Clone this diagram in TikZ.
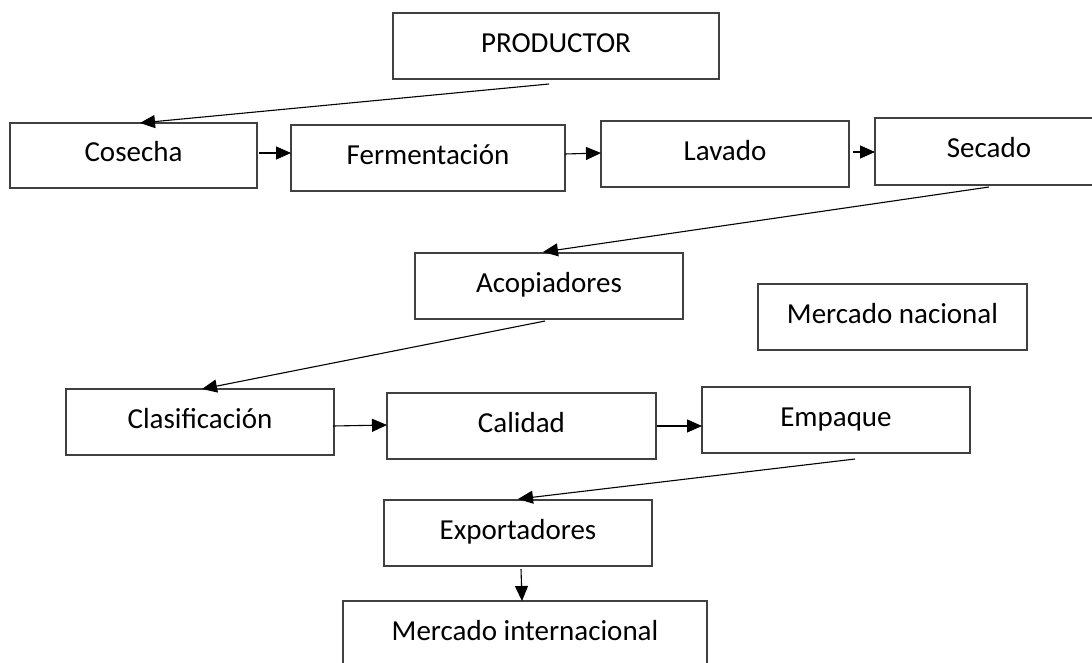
\documentclass[tikz,border=0pt]{standalone}
\usepackage{fontspec}
\setmainfont{Carlito}
\usetikzlibrary{arrows.meta}
\definecolor{boxgray}{HTML}{404040}
\begin{document}
\begin{tikzpicture}[x=1pt,y=-1pt,
  box/.style={draw=boxgray, line width=1.3pt, rectangle, inner sep=0pt, outer sep=0pt,
    text height=20pt, text depth=8pt, font=\fontsize{29}{34}\selectfont},
  conn/.style={draw=black, line width=1.1pt, -{Triangle[length=15pt,width=13pt]}}]
\useasboundingbox (0,0) rectangle (1092,662);
\clip (0,0) rectangle (1092,662);
\node[box, minimum width=326pt, minimum height=66pt] (prod) at (556,46) {PRODUCTOR};
\node[box, minimum width=247pt, minimum height=65pt] (cos) at (133.5,155.5) {Cosecha};
\node[box, minimum width=274pt, minimum height=66pt] (fer) at (428,158) {Fermentación};
\node[box, minimum width=248pt, minimum height=66pt] (lav) at (725,154) {Lavado};
\node[box, minimum width=228pt, minimum height=67pt] (sec) at (989,151.5) {Secado};
\node[box, minimum width=268pt, minimum height=66pt] (aco) at (549,286) {Acopiadores};
\node[box, minimum width=269pt, minimum height=66pt] (mn) at (892.5,317) {Mercado nacional};
\node[box, minimum width=268pt, minimum height=66pt] (cla) at (200,422) {Clasificación};
\node[box, minimum width=269pt, minimum height=66pt] (cal) at (521.5,426) {Calidad};
\node[box, minimum width=268pt, minimum height=66pt] (emp) at (836,420) {Empaque};
\node[box, minimum width=268pt, minimum height=66pt] (exp) at (518,533) {Exportadores};
\node[box, minimum width=364pt, minimum height=66pt] (mi) at (525,634) {Mercado internacional};
\draw[conn] ([shift={(-7,5)}]prod.south) -- ([shift={(6.5,0)}]cos.north);
\draw[conn] ([shift={(2,-2.5)}]cos.east) -- ([shift={(0,-5)}]fer.west);
\draw[conn] ([shift={(0,-4)}]fer.east) -- ([shift={(0,-1)}]lav.west);
\draw[conn] ([shift={(4,-2)}]lav.east) -- ([shift={(0,0.5)}]sec.west);
\draw[conn] ([shift={(0,2)}]sec.south) -- ([shift={(-6,-1)}]aco.north);
\draw[conn] ([shift={(-4,2)}]aco.south) -- ([shift={(2,0)}]cla.north);
\draw[conn] ([shift={(-1,4)}]cla.east) -- ([shift={(0,-1)}]cal.west);
\draw[conn] ([shift={(1,0)}]cal.east) -- ([shift={(0,6)}]emp.west);
\draw[conn] ([shift={(19,6)}]emp.south) -- ([shift={(0,-1)}]exp.north);
\draw[conn] ([shift={(3,3)}]exp.south) -- ([shift={(-3,0)}]mi.north);
\end{tikzpicture}
\end{document}
